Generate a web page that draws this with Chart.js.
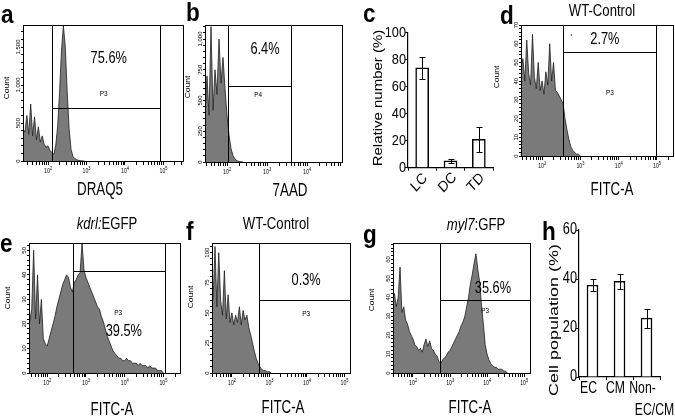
<!DOCTYPE html>
<html>
<head>
<meta charset="utf-8">
<script src="https://cdn.jsdelivr.net/npm/chart.js@4.4.0/dist/chart.umd.min.js"></script>
<style>
  body { margin: 0; background: #fff; }
  #wrap { position: relative; width: 675px; height: 419px; overflow: hidden; }
  #wrap canvas { position: absolute; left: 0; top: 0; }
</style>
</head>
<body>
<div id="wrap">
  <canvas id="pa" width="675" height="419"></canvas>
  <canvas id="pb" width="675" height="419"></canvas>
  <canvas id="pc" width="675" height="419"></canvas>
  <canvas id="pd" width="675" height="419"></canvas>
  <canvas id="pe" width="675" height="419"></canvas>
  <canvas id="pf" width="675" height="419"></canvas>
  <canvas id="pg" width="675" height="419"></canvas>
  <canvas id="ph" width="675" height="419"></canvas>
</div>
<script>
// Histogram bins (log10 of fluorescence), shared by every flow panel
var binLog = [
  1.35, 1.40, 1.45, 1.50, 1.55, 1.60, 1.65, 1.70, 1.75, 1.80,
  1.85, 1.90, 1.95, 2.00, 2.05, 2.10, 2.15, 2.20, 2.25, 2.30,
  2.35, 2.40, 2.45, 2.50, 2.55, 2.60, 2.65, 2.70, 2.75, 2.80,
  2.85, 2.90, 2.95, 3.00, 3.05, 3.10, 3.15, 3.20, 3.25, 3.30,
  3.35, 3.40, 3.45, 3.50, 3.55, 3.60, 3.65, 3.70, 3.75, 3.80,
  3.85, 3.90, 3.95, 4.00, 4.05, 4.10, 4.15, 4.20, 4.25, 4.30,
  4.35, 4.40, 4.45, 4.50, 4.55, 4.60, 4.65, 4.70, 4.75, 4.80,
  4.85, 4.90, 4.95, 5.00
];

// Counts per bin
var countsA = [
  420, 380, 600, 350, 750, 330, 580, 280, 450, 250,
  330, 220, 180, 200, 140, 110, 90, 200, 450, 900,
  1450, 1780, 1500, 900, 420, 150, 60, 30, 15, 8,
  4, 2, 0
];
var countsB = [
  350, 350, 360, 700, 380, 1100, 420, 750, 550, 1000,
  640, 850, 600, 380, 220, 110, 50, 25, 10, 5,
  2, 0
];
var countsD = [
  45, 48, 46, 52, 40, 62, 44, 38, 65, 42,
  36, 50, 35, 40, 33, 45, 38, 60, 40, 50,
  35, 34, 32, 30, 28, 20, 14, 9, 5, 3,
  2, 1, 1, 0
];
var countsE = [
  22, 24, 20, 23, 21, 26, 50, 22, 40, 20,
  30, 14, 12, 11, 14, 17, 20, 23, 27, 30,
  33, 36, 38, 40, 39, 35, 33, 37, 38, 40,
  41, 53, 42, 39, 37, 35, 33, 31, 29, 27,
  26, 23, 21, 18, 15, 13, 11, 9, 8, 7,
  6, 6, 5, 5, 6, 5, 5, 4, 4, 4,
  3, 4, 3, 3, 3, 2, 3, 2, 2, 2,
  1, 1, 1, 0
];
var countsF = [
  55, 60, 58, 62, 105, 55, 100, 60, 48, 85,
  45, 65, 42, 50, 40, 48, 42, 55, 40, 52,
  44, 48, 38, 32, 25, 18, 12, 8, 5, 3,
  2, 2, 1, 1, 0
];
var countsG = [
  38, 35, 38, 42, 35, 40, 56, 32, 35, 28,
  26, 22, 20, 18, 15, 14, 12, 13, 11, 15,
  18, 14, 17, 13, 12, 10, 9, 6, 5, 7,
  8, 9, 11, 12, 14, 16, 18, 20, 22, 25,
  27, 30, 35, 40, 47, 52, 58, 63, 55, 48,
  36, 26, 15, 10, 7, 5, 4, 3, 3, 2,
  2, 2, 1, 1, 0
];

// Gates: [left log10, right log10, horizontal count]
var gateA = [2.10, 4.91, 700];
var gateB = [2.02, 3.60, 617];
var gateD = [2.55, 4.97, 55.4];
var gateE = [2.67, 5.04, 41.4];
var gateF = [2.72, 5.15, 61];
var gateG = [2.73, 5.16, 38.8];

var pctA = '75.6%', pctB = '6.4%', pctD = '2.7%', pctE = '39.5%', pctF = '0.3%', pctG = '35.6%';

// x tick labels on the log axes: 10^2 .. 10^5, minor ticks at 1..9 x 10^n
var logDecades = [1, 2, 3, 4, 5];
var logLabelled = [2, 3, 4, 5];
var logMinor = [1, 2, 3, 4, 5, 6, 7, 8, 9];

// Bar panels
var cCategories = ['LC', 'DC', 'TD'];
var cValues = [74, 5, 21];
var cErrors = [8, 1.2, 9];
var cTicks = [0, 20, 40, 60, 80, 100];

var hCategories = ['EC', 'CM', ['Non-', 'EC/CM']];
var hValues = [37.5, 39, 24];
var hErrors = [2.5, 3, 3.8];
var hTicks = [0, 20, 40, 60];

var W = 675, H = 419;
var FONT = '"Liberation Sans", Arial, sans-serif';
var SX = 0.8; // the figure text is squeezed sideways

function crisp(v) { return Math.round(v) + 0.5; }
function seg(ctx, x1, y1, x2, y2) {
  ctx.beginPath(); ctx.moveTo(x1, y1); ctx.lineTo(x2, y2); ctx.stroke();
}
function drawText(ctx, txt, x, y, font, opt) {
  opt = opt || {};
  ctx.save();
  ctx.translate(x, y);
  ctx.scale(opt.sx || SX, 1);
  if (opt.rot) ctx.rotate(opt.rot);
  ctx.font = font;
  ctx.fillStyle = '#000';
  ctx.textAlign = opt.align || 'center';
  ctx.textBaseline = opt.base || 'middle';
  ctx.fillText(txt, 0, 0);
  ctx.restore();
}
function drawRuns(ctx, runs, cx, cy, size) {
  ctx.save();
  ctx.translate(cx, cy);
  ctx.scale(0.82, 1);
  var fonts = runs.map(function(r) { return (r[1] ? 'italic ' : '') + size + 'px ' + FONT; });
  var widths = runs.map(function(r, i) { ctx.font = fonts[i]; return ctx.measureText(r[0]).width; });
  var x = -widths.reduce(function(s, w) { return s + w; }, 0) / 2;
  ctx.fillStyle = '#000';
  ctx.textAlign = 'left';
  ctx.textBaseline = 'middle';
  runs.forEach(function(r, i) { ctx.font = fonts[i]; ctx.fillText(r[0], x, 0); x += widths[i]; });
  ctx.restore();
}
function letter(ctx, p) {
  drawText(ctx, p.letter, p.letterAt[0], p.letterAt[1], 'bold 25px ' + FONT, {align: 'left', base: 'alphabetic', sx: 0.9});
}

var facsPanels = [
  {id: 'pa', letter: 'a', letterAt: [1, 23], counts: countsA, rect: [23, 25, 183, 161],
   xMin: 1.35, xMax: 5.51, yMax: 1790, yMinor: 100, yMajor: 500,
   gate: gateA, pct: pctA, pctAt: [3.58, 1342], gateName: 'P3', gateNameAt: [3.45, 882],
   xTitle: 'DRAQ5', xTitleAt: [100, 190], countAt: [7.5, 88]},
  {id: 'pb', letter: 'b', letterAt: [186, 21], counts: countsB, rect: [205, 25, 342, 162],
   xMin: 1.45, xMax: 4.875, yMax: 1114, yMinor: 50, yMajor: 250,
   gate: gateB, pct: pctB, pctAt: [2.95, 911], gateName: 'P4', gateNameAt: [2.78, 545],
   xTitle: '7AAD', xTitleAt: [290, 191], countAt: [188, 87]},
  {id: 'pd', letter: 'd', letterAt: [500, 24], counts: countsD, rect: [521, 25, 673, 156],
   xMin: 1.45, xMax: 5.42, yMax: 70, yMinor: 2, yMajor: 10,
   gate: gateD, pct: pctD, pctAt: [3.64, 62], gateName: 'P3', gateNameAt: [3.77, 33.6],
   note: "'", noteAt: [2.76, 63.5],
   title: [['WT-Control', false]], titleAt: [602, 12],
   xTitle: 'FITC-A', xTitleAt: [612, 190], countAt: [497, 77]},
  {id: 'pe', letter: 'e', letterAt: [0, 252], counts: countsE, rect: [29, 243, 180, 373],
   xMin: 1.53, xMax: 5.43, yMax: 53, yMinor: 2, yMajor: 10,
   gate: gateE, pct: pctE, pctAt: [3.98, 16.7], gateName: 'P3', gateNameAt: [3.83, 24.5],
   title: [['kdrl:', true], ['EGFP', false]], titleAt: [107, 225],
   xTitle: 'FITC-A', xTitleAt: [112, 410], countAt: [8, 298]},
  {id: 'pf', letter: 'f', letterAt: [186, 240], counts: countsF, rect: [212, 243, 350, 373],
   xMin: 1.47, xMax: 5.15, yMax: 108, yMinor: 5, yMajor: 25,
   gate: gateF, pct: pctF, pctAt: [3.98, 76.4], gateName: 'P3', gateNameAt: [3.98, 49],
   title: [['WT-Control', false]], titleAt: [276, 225],
   xTitle: 'FITC-A', xTitleAt: [283, 408], countAt: [191, 297]},
  {id: 'pg', letter: 'g', letterAt: [363, 243], counts: countsG, rect: [393, 243, 530, 373],
   xMin: 1.46, xMax: 5.16, yMax: 68.7, yMinor: 2, yMajor: 10,
   gate: gateG, pct: pctG, pctAt: [4.16, 44.4], gateName: 'P3', gateNameAt: [3.95, 32.8],
   title: [['myl7', true], [':GFP', false]], titleAt: [476, 226],
   xTitle: 'FITC-A', xTitleAt: [470, 408], countAt: [372, 300]}
];

var barPanels = [
  {id: 'pc', letter: 'c', letterAt: [363, 22], labels: cCategories, values: cValues, errors: cErrors,
   ticks: cTicks, rect: [408, 32.7, 493, 167.7], yMax: 100, barWidth: 13,
   tickFont: '15px ' + FONT, tickSx: 0.85, labelFont: '15px ' + FONT, labelRot: -Math.PI / 4,
   labelDx: -3, labelDy: 15, line2Dx: 0,
   yTitle: 'Relative number (%)', yTitleAt: [378, 98], yTitleFont: '15px ' + FONT, yTitleSx: 0.85},
  {id: 'ph', letter: 'h', letterAt: [542, 240], labels: hCategories, values: hValues, errors: hErrors,
   ticks: hTicks, rect: [579, 230, 660, 377], yMax: 60, barWidth: 11,
   tickFont: '16px ' + FONT, tickSx: 0.8, labelFont: '17px ' + FONT, labelRot: 0,
   labelDx: -4, labelDy: 11, line2Dx: 12,
   yTitle: 'Cell population (%)', yTitleAt: [554, 320], yTitleFont: '18px ' + FONT, yTitleSx: 0.75}
];

function facsDecor(p) {
  return {
    id: 'facsDecor',
    afterDraw: function(chart) {
      var ctx = chart.ctx, xs = chart.scales.x, ys = chart.scales.y, a = chart.chartArea;
      var L = crisp(a.left), R = crisp(a.right), T = crisp(a.top), B = crisp(a.bottom);
      function gx(v) { return xs.getPixelForValue(Math.pow(10, v)); }
      ctx.save();
      ctx.strokeStyle = '#000';
      ctx.lineWidth = 1;
      ctx.strokeRect(L, T, R - L, B - T);
      var g1 = crisp(gx(p.gate[0])), g2 = Math.min(crisp(gx(p.gate[1])), R), gy = crisp(ys.getPixelForValue(p.gate[2]));
      seg(ctx, g1, T, g1, B);
      seg(ctx, g2, T, g2, B);
      seg(ctx, g1, gy, g2, gy);
      ctx.restore();

      drawText(ctx, p.pct, gx(p.pctAt[0]), ys.getPixelForValue(p.pctAt[1]), '16px ' + FONT, {sx: 0.8});
      drawText(ctx, p.gateName, gx(p.gateNameAt[0]), ys.getPixelForValue(p.gateNameAt[1]), '8px ' + FONT);
      if (p.note) drawText(ctx, p.note, gx(p.noteAt[0]), ys.getPixelForValue(p.noteAt[1]), '9px ' + FONT);

      logLabelled.forEach(function(d) {
        if (d < p.xMin || d > p.xMax) return;
        var x = gx(d);
        drawText(ctx, '10', x - 1, B + 10, '6.5px ' + FONT);
        drawText(ctx, String(d), x + 3, B + 7, '5px ' + FONT);
      });
      ys.ticks.forEach(function(t) {
        if (t.value % p.yMajor !== 0) return;
        var lab = t.value >= 1000 ? t.value.toLocaleString('en-US') : String(t.value);
        drawText(ctx, lab, a.left - 5, ys.getPixelForValue(t.value), '6px ' + FONT, {rot: -Math.PI / 2, sx: 1});
      });

      drawText(ctx, 'Count', p.countAt[0], p.countAt[1], '8.5px ' + FONT, {rot: -Math.PI / 2});
      drawText(ctx, p.xTitle, p.xTitleAt[0], p.xTitleAt[1], '18px ' + FONT, {sx: 0.74});
      if (p.title) drawRuns(ctx, p.title, p.titleAt[0], p.titleAt[1], 16);
      letter(ctx, p);
    }
  };
}

function barDecor(p) {
  return {
    id: 'barDecor',
    afterDatasetsDraw: function(chart) {
      var ctx = chart.ctx, ys = chart.scales.y, meta = chart.getDatasetMeta(0);
      ctx.save();
      ctx.strokeStyle = '#000';
      ctx.lineWidth = 1;
      p.values.forEach(function(v, i) {
        var x = crisp(meta.data[i].x);
        var y1 = crisp(ys.getPixelForValue(v + p.errors[i])), y2 = crisp(ys.getPixelForValue(v - p.errors[i]));
        seg(ctx, x, y1, x, y2);
        seg(ctx, x - 3, y1, x + 3, y1);
        seg(ctx, x - 3, y2, x + 3, y2);
      });
      ctx.restore();
    },
    afterDraw: function(chart) {
      var ctx = chart.ctx, ys = chart.scales.y, a = chart.chartArea, meta = chart.getDatasetMeta(0);
      p.ticks.forEach(function(t) {
        drawText(ctx, String(t), a.left - 2, ys.getPixelForValue(t), p.tickFont, {align: 'right', sx: p.tickSx});
      });
      p.labels.forEach(function(lab, i) {
        var x = meta.data[i].x + p.labelDx, y = a.bottom + p.labelDy;
        if (Array.isArray(lab)) {
          drawText(ctx, lab[0], x, y, p.labelFont, {sx: 0.72});
          drawText(ctx, lab[1], x + p.line2Dx, y + 22, p.labelFont, {sx: 0.72});
        } else if (p.labelRot) {
          drawText(ctx, lab, x, y, p.labelFont, {rot: p.labelRot, sx: 0.9});
        } else {
          drawText(ctx, lab, x, y, p.labelFont, {sx: 0.72});
        }
      });
      drawText(ctx, p.yTitle, p.yTitleAt[0], p.yTitleAt[1], p.yTitleFont, {rot: -Math.PI / 2, sx: p.yTitleSx});
      letter(ctx, p);
    }
  };
}

var Y_W = 20, X_H = 12;

facsPanels.forEach(function(p) {
  var pts = p.counts.map(function(c, i) { return {x: Math.pow(10, binLog[i]), y: c}; });
  var xTicks = [];
  logDecades.forEach(function(d) {
    logMinor.forEach(function(m) {
      var v = m * Math.pow(10, d);
      if (Math.log10(v) >= p.xMin && Math.log10(v) <= p.xMax) xTicks.push({value: v});
    });
  });
  var yTicks = [];
  for (var v = 0; v <= p.yMax; v += p.yMinor) yTicks.push({value: v});

  new Chart(document.getElementById(p.id), {
    type: 'line',
    data: {
      datasets: [{
        data: pts,
        fill: 'origin',
        backgroundColor: '#7a7a7a',
        borderColor: '#1e1e1e',
        borderWidth: 0.8,
        pointRadius: 0,
        tension: 0
      }]
    },
    options: {
      responsive: false,
      animation: false,
      devicePixelRatio: 1,
      events: [],
      layout: {padding: {left: p.rect[0] - Y_W, top: p.rect[1], right: W - p.rect[2], bottom: H - p.rect[3] - X_H}},
      plugins: {legend: {display: false}, tooltip: {enabled: false}},
      scales: {
        x: {
          type: 'logarithmic',
          min: Math.pow(10, p.xMin),
          max: Math.pow(10, p.xMax),
          afterFit: function(s) { s.height = X_H; },
          afterBuildTicks: function(s) { s.ticks = xTicks; },
          ticks: {display: false},
          grid: {drawOnChartArea: false, drawTicks: true, tickLength: 4, color: '#000', lineWidth: 1},
          border: {display: true, color: '#000', width: 1}
        },
        y: {
          min: 0,
          max: p.yMax,
          afterFit: function(s) { s.width = Y_W; },
          afterBuildTicks: function(s) { s.ticks = yTicks; },
          ticks: {display: false},
          grid: {drawOnChartArea: false, drawTicks: true, tickLength: 2, color: '#000', lineWidth: 1},
          border: {display: true, color: '#000', width: 1}
        }
      }
    },
    plugins: [facsDecor(p)]
  });
});

barPanels.forEach(function(p) {
  new Chart(document.getElementById(p.id), {
    type: 'bar',
    data: {
      labels: p.labels,
      datasets: [{
        data: p.values,
        backgroundColor: '#fff',
        borderColor: '#000',
        borderWidth: 1.5,
        barThickness: p.barWidth
      }]
    },
    options: {
      responsive: false,
      animation: false,
      devicePixelRatio: 1,
      events: [],
      layout: {padding: {left: p.rect[0] - Y_W, top: p.rect[1], right: W - p.rect[2], bottom: H - p.rect[3] - X_H}},
      plugins: {legend: {display: false}, tooltip: {enabled: false}},
      scales: {
        x: {
          afterFit: function(s) { s.height = X_H; },
          ticks: {display: false},
          grid: {drawOnChartArea: false, drawTicks: true, tickLength: 3, color: '#000'},
          border: {display: true, color: '#000', width: 1.2}
        },
        y: {
          min: 0,
          max: p.yMax,
          afterFit: function(s) { s.width = Y_W; },
          afterBuildTicks: function(s) { s.ticks = p.ticks.map(function(t) { return {value: t}; }); },
          ticks: {display: false},
          grid: {drawOnChartArea: false, drawTicks: true, tickLength: 3, color: '#000'},
          border: {display: true, color: '#000', width: 1.2}
        }
      }
    },
    plugins: [barDecor(p)]
  });
});
</script>
</body>
</html>
